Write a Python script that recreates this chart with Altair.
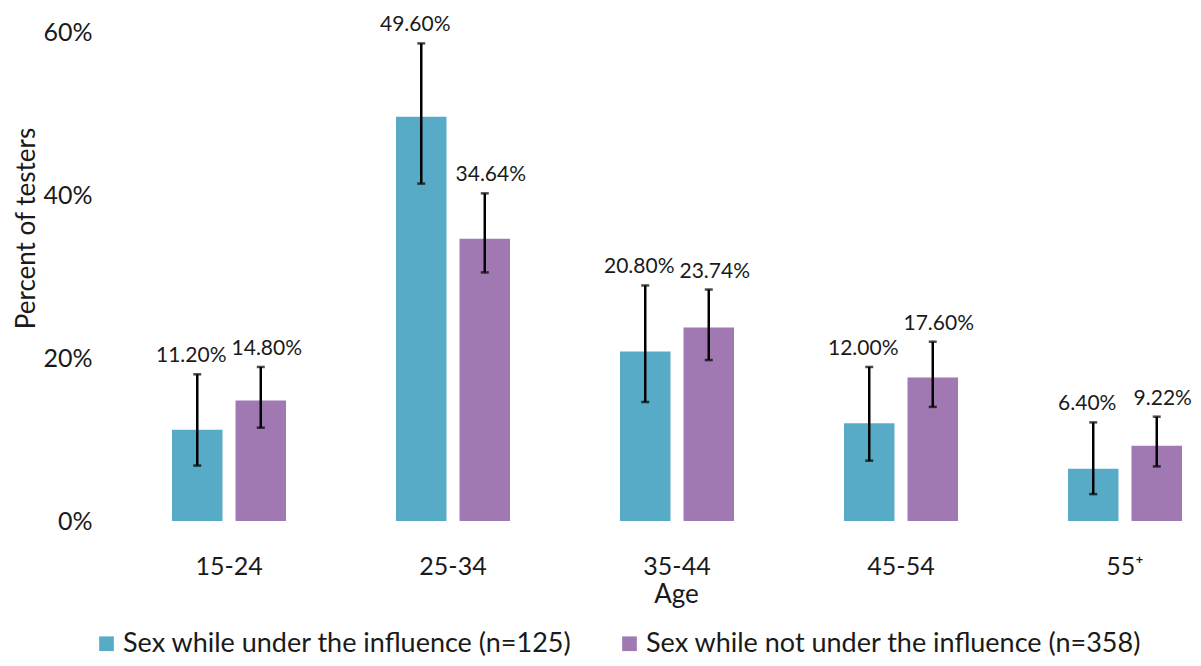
import altair as alt
import pandas as pd

ages = ["15-24", "25-34", "35-44", "45-54", "55⁺"]
groups = ["Sex while under the influence (n=125)",
          "Sex while not under the influence (n=358)"]
colors = ["#57ABC7", "#A079B3"]

under = [11.20, 49.60, 20.80, 12.00, 6.40]
under_lo = [6.8, 41.4, 14.6, 7.4, 3.3]
under_hi = [18.0, 58.6, 28.9, 18.9, 12.1]

not_under = [14.80, 34.64, 23.74, 17.60, 9.22]
not_under_lo = [11.45, 30.5, 19.75, 14.0, 6.7]
not_under_hi = [18.9, 40.2, 28.4, 22.0, 12.8]

rows = []
for g, vals, los, his in [(groups[0], under, under_lo, under_hi),
                          (groups[1], not_under, not_under_lo, not_under_hi)]:
    for a, v, lo, hi in zip(ages, vals, los, his):
        rows.append({"age": a, "group": g, "value": v, "lo": lo, "hi": hi,
                     "label": f"{v:.2f}%"})
df = pd.DataFrame(rows)

FONT = "Lato"
TXT = "#1a1a1a"

x = alt.X("age:N", sort=ages,
          scale=alt.Scale(paddingInner=0.491, paddingOuter=0.1228, align=1),
          axis=alt.Axis(title="Age", domain=False, ticks=False, tickSize=0,
                        labelAngle=0, labelPadding=45, labelBaseline="middle",
                        labelFontSize=25, labelColor=TXT, labelFont=FONT,
                        titleFontSize=26, titleColor=TXT, titleFont=FONT,
                        titleFontWeight="normal", titleX=559, titleY=73,
                        titleBaseline="middle", titleAlign="center"))
xo = alt.XOffset("group:N", sort=groups,
                 scale=alt.Scale(paddingInner=0.205, paddingOuter=0))

yscale = alt.Scale(domain=[0, 60], nice=False)

base = alt.Chart(df)

bars = base.mark_bar().encode(
    x=x, xOffset=xo,
    y=alt.Y("value:Q", scale=yscale,
            axis=alt.Axis(title="Percent of testers", values=[0, 20, 40, 60],
                          labelExpr="datum.value + '%'", grid=False,
                          domain=False, ticks=False, tickSize=0,
                          labelPadding=25, labelFontSize=25, labelColor=TXT,
                          labelFont=FONT, labelBaseline="middle",
                          titleFontSize=26, titleColor=TXT, titleFont=FONT,
                          titleFontWeight="normal", titleX=-91, titleY=196,
                          titleAlign="center", titleBaseline="middle",
                          titleAngle=270)),
    color=alt.Color("group:N", sort=groups,
                    scale=alt.Scale(domain=groups, range=colors),
                    legend=alt.Legend(title=None, orient="none",
                                      direction="horizontal",
                                      legendX=-24, legendY=598,
                                      symbolType="square", symbolSize=215,
                                      symbolStrokeWidth=0, symbolOpacity=1,
                                      labelFontSize=27, labelFont=FONT,
                                      labelColor=TXT, labelOffset=3,
                                      columnPadding=44, labelLimit=700)),
)

rules = base.mark_rule(color="black", strokeWidth=2.5).encode(
    x=x, xOffset=xo, y=alt.Y("lo:Q", scale=yscale), y2="hi:Q")

cap_lo = base.mark_tick(color="black", thickness=2.5, size=8,
                        orient="horizontal").encode(
    x=x, xOffset=xo, y=alt.Y("lo:Q", scale=yscale))
cap_hi = base.mark_tick(color="black", thickness=2.5, size=8,
                        orient="horizontal").encode(
    x=x, xOffset=xo, y=alt.Y("hi:Q", scale=yscale))

labels_a = base.transform_filter(alt.datum.group == groups[0]).mark_text(
    baseline="alphabetic", dy=-12, dx=-6, fontSize=21, font=FONT,
    color=TXT).encode(
    x=x, xOffset=xo, y=alt.Y("hi:Q", scale=yscale), text="label:N")
labels_b = base.transform_filter(alt.datum.group == groups[1]).mark_text(
    baseline="alphabetic", dy=-12, dx=6, fontSize=21, font=FONT,
    color=TXT).encode(
    x=x, xOffset=xo, y=alt.Y("hi:Q", scale=yscale), text="label:N")

chart = alt.layer(bars, rules, cap_lo, cap_hi, labels_a, labels_b).properties(
    width=1065, height=489,
    background="white",
    autosize=alt.AutoSizeParams(type="none"),
    padding={"left": 109, "top": 24, "right": 11, "bottom": 137},
).configure_view(stroke=None, strokeWidth=0)

chart.save("out.html", embed_options={"renderer": "svg", "actions": False})
